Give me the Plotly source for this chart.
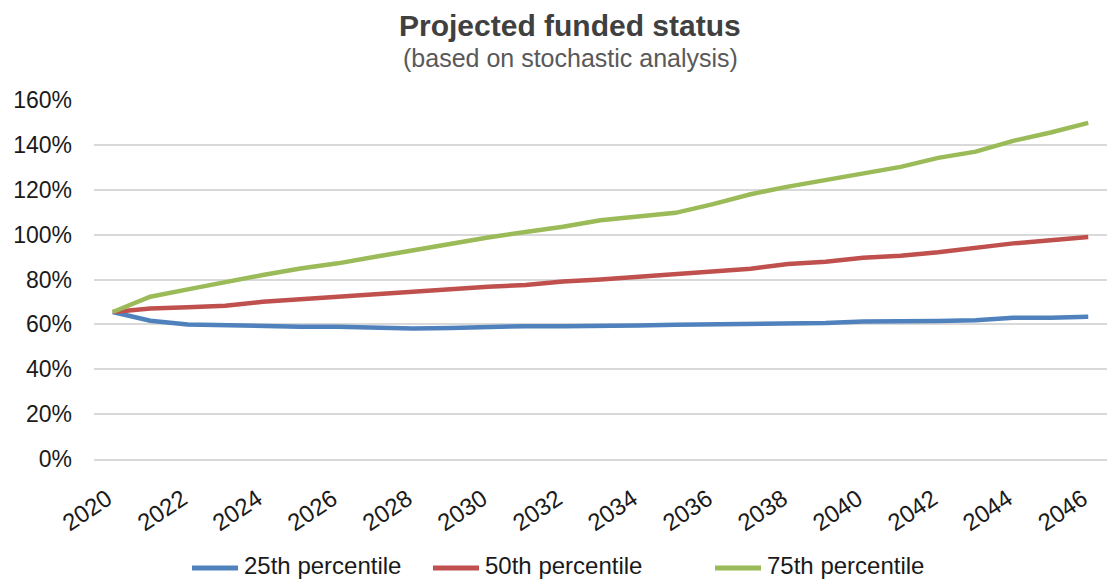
import plotly.graph_objects as go

# Projection years and funded-status percentiles (%)
years = list(range(2020, 2047))

p25 = [65.5, 61.6, 60.0, 59.7, 58.9, 58.9, 58.9, 58.5, 58.2, 58.4,
       58.9, 59.2, 59.2, 59.2, 59.5, 59.8, 60.0, 60.0, 60.3, 60.6,
       61.3, 61.2, 61.5, 61.8, 62.9, 62.9, 63.4]

p50 = [65.5, 67.1, 67.6, 68.3, 70.1, 71.3, 72.5, 73.6, 74.7, 75.6,
       76.8, 77.6, 79.1, 80.0, 81.2, 82.7, 83.6, 84.8, 86.9, 87.9,
       89.7, 90.6, 92.1, 94.1, 96.1, 97.5, 98.9]

p75 = [65.5, 72.3, 75.6, 79.0, 82.0, 84.9, 87.2, 90.1, 93.1, 96.1,
       98.7, 101.2, 103.5, 106.4, 108.0, 109.7, 113.6, 118.0, 121.4, 124.2,
       127.0, 130.2, 134.2, 137.0, 141.8, 145.5, 149.8]

series_names = ["25th percentile", "50th percentile", "75th percentile"]
series_colors = ["#4f81bd", "#c0504d", "#9bbb59"]

y_ticks = list(range(0, 161, 20))
x_ticks = list(range(2020, 2047, 2))

FONT = "Liberation Sans, Arial, sans-serif"

W, H = 1114, 580
ML, MR, MT, MB = 94, 7, 100, 121
PW, PH = W - ML - MR, H - MT - MB


def px_to_paper_x(px):
    return (px - ML) / PW


def px_to_paper_y(py):
    return (H - MB - py) / PH


fig = go.Figure()
for name, vals, color in zip(series_names, [p25, p50, p75], series_colors):
    fig.add_trace(go.Scatter(
        x=years, y=vals, name=name, mode="lines",
        line=dict(color=color, width=4.5),
        showlegend=False,
    ))

# Legend row below the axis: colour swatch line followed by the series name
legend_starts = [192, 433, 715]
line_y = px_to_paper_y(568)
shapes, annotations = [], []
for name, color, x0 in zip(series_names, series_colors, legend_starts):
    shapes.append(dict(
        type="line", xref="paper", yref="paper",
        x0=px_to_paper_x(x0), x1=px_to_paper_x(x0 + 46),
        y0=line_y, y1=line_y,
        line=dict(color=color, width=5),
    ))
    annotations.append(dict(
        text=name, xref="paper", yref="paper",
        x=px_to_paper_x(x0 + 51), y=px_to_paper_y(580),
        xanchor="left", yanchor="bottom", showarrow=False,
        font=dict(size=24, color="#1a1a1a", family=FONT),
        borderpad=0,
    ))

annotations += [
    dict(text="<b>Projected funded status</b>", xref="paper", yref="paper",
         x=px_to_paper_x(570), y=1, xanchor="center", yanchor="bottom", yshift=56,
         showarrow=False, font=dict(size=30, color="#404040", family=FONT)),
    dict(text="(based on stochastic analysis)", xref="paper", yref="paper",
         x=px_to_paper_x(570), y=1, xanchor="center", yanchor="bottom", yshift=26,
         showarrow=False, font=dict(size=25, color="#595959", family=FONT)),
]

fig.update_layout(
    width=W, height=H,
    margin=dict(l=ML, r=MR, t=MT, b=MB, autoexpand=False),
    paper_bgcolor="white", plot_bgcolor="white",
    font=dict(family=FONT, color="#1a1a1a", size=23),
    showlegend=False,
    shapes=shapes,
    annotations=annotations,
)

fig.update_xaxes(
    range=[2019.5, 2046.5],
    tickmode="array", tickvals=x_ticks,
    ticktext=[f"{v}\u00a0" for v in x_ticks],
    tickangle=-34,
    showgrid=False, zeroline=False,
    showline=True, linecolor="#d9d9d9", linewidth=1.5,
    ticks="", ticklabelstandoff=11,
    tickfont=dict(size=24, color="#1a1a1a"),
    automargin=False,
)
fig.update_yaxes(
    range=[0, 160],
    tickmode="array", tickvals=y_ticks, ticktext=[f"{v}%" for v in y_ticks],
    showgrid=True, gridcolor="#d9d9d9", gridwidth=1.5,
    zeroline=False, showline=False,
    ticks="", ticklabelstandoff=21,
    tickfont=dict(size=23, color="#1a1a1a"),
    automargin=False,
)

fig.write_html("out.html")
